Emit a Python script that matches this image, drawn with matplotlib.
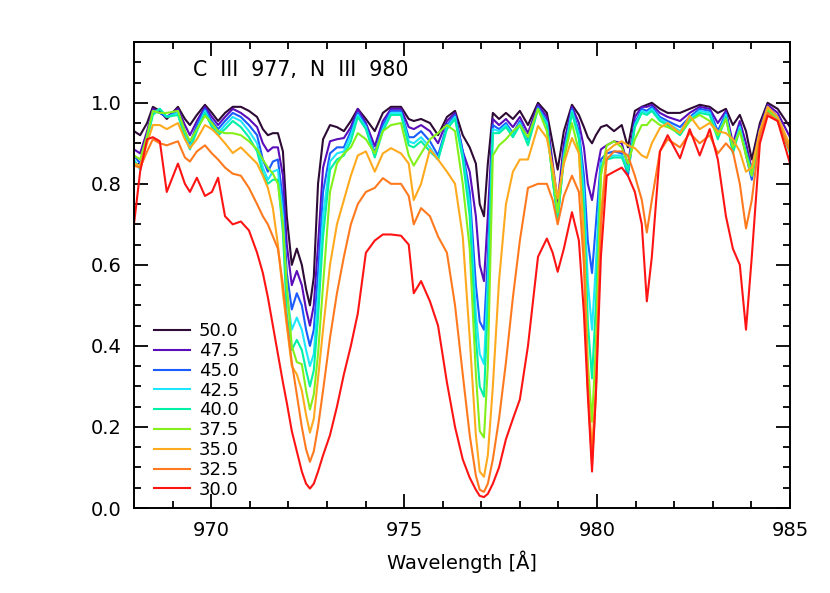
import matplotlib
matplotlib.use('Agg')
import matplotlib.pyplot as plt
from matplotlib.ticker import MultipleLocator

# wavelength grid (Angstrom)
wavelength = [
    968.00, 968.16, 968.34, 968.49, 968.67, 968.85, 969.14, 969.32, 969.45, 969.63,
    969.84, 970.02, 970.18, 970.36, 970.56, 970.77, 970.98, 971.19, 971.34, 971.47,
    971.60, 971.73, 971.86, 971.96, 972.09, 972.22, 972.35, 972.46, 972.56, 972.66,
    972.77, 972.90, 973.08, 973.26, 973.44, 973.62, 973.80, 974.01, 974.24, 974.45,
    974.66, 974.92, 975.12, 975.25, 975.44, 975.67, 975.88, 976.11, 976.32, 976.52,
    976.70, 976.86, 976.96, 977.07, 977.17, 977.30, 977.46, 977.64, 977.82, 978.00,
    978.21, 978.47, 978.70, 978.85, 978.98, 979.14, 979.35, 979.53, 979.66, 979.76,
    979.87, 979.97, 980.10, 980.25, 980.44, 980.64, 980.80, 980.98, 981.16, 981.29,
    981.42, 981.63, 981.83, 982.15, 982.40, 982.66, 982.92, 983.13, 983.34, 983.52,
    983.70, 983.86, 984.01, 984.22, 984.42, 984.68, 985.00,
]

flux_500 = [
    0.93, 0.92, 0.95, 0.99, 0.98, 0.96, 0.99, 0.96, 0.945, 0.97,
    0.995, 0.975, 0.955, 0.975, 0.99, 0.99, 0.98, 0.965, 0.935, 0.92,
    0.925, 0.925, 0.88, 0.72, 0.60, 0.64, 0.60, 0.54, 0.50, 0.57,
    0.80, 0.91, 0.945, 0.94, 0.93, 0.955, 0.985, 0.96, 0.93, 0.975,
    0.99, 0.99, 0.96, 0.955, 0.96, 0.95, 0.92, 0.965, 0.98, 0.92,
    0.89, 0.85, 0.75, 0.72, 0.85, 0.975, 0.96, 0.975, 0.96, 0.98,
    0.945, 1.0, 0.975, 0.90, 0.835, 0.93, 0.995, 0.97, 0.94, 0.915,
    0.90, 0.92, 0.94, 0.945, 0.93, 0.945, 0.89, 0.98, 0.99, 0.995,
    1.0, 0.985, 0.975, 0.975, 0.985, 0.995, 0.99, 0.975, 0.985, 0.945,
    0.97, 0.93, 0.86, 0.95, 1.0, 0.985, 0.94,
]

flux_475 = [
    0.885, 0.875, 0.93, 0.985, 0.975, 0.965, 0.985, 0.945, 0.92, 0.955,
    0.99, 0.965, 0.945, 0.965, 0.985, 0.975, 0.96, 0.94, 0.90, 0.88,
    0.89, 0.89, 0.82, 0.65, 0.55, 0.585, 0.55, 0.49, 0.45, 0.50,
    0.65, 0.84, 0.905, 0.91, 0.913, 0.94, 0.985, 0.95, 0.893, 0.955,
    0.985, 0.985, 0.94, 0.935, 0.945, 0.93, 0.90, 0.955, 0.975, 0.88,
    0.83, 0.72, 0.60, 0.56, 0.72, 0.96, 0.945, 0.96, 0.94, 0.965,
    0.925, 0.995, 0.965, 0.85, 0.755, 0.90, 0.99, 0.95, 0.89, 0.80,
    0.76, 0.82, 0.885, 0.895, 0.905, 0.90, 0.845, 0.965, 0.99, 0.99,
    0.995, 0.975, 0.965, 0.955, 0.975, 0.99, 0.985, 0.95, 0.98, 0.90,
    0.955, 0.90, 0.835, 0.94, 0.995, 0.975, 0.915,
]

flux_450 = [
    0.87, 0.85, 0.92, 0.98, 0.975, 0.965, 0.98, 0.93, 0.90, 0.945,
    0.985, 0.955, 0.935, 0.955, 0.975, 0.965, 0.945, 0.92, 0.86, 0.83,
    0.855, 0.86, 0.76, 0.58, 0.49, 0.53, 0.50, 0.44, 0.40, 0.44,
    0.58, 0.78, 0.875, 0.89, 0.89, 0.93, 0.975, 0.945, 0.876, 0.945,
    0.98, 0.98, 0.915, 0.915, 0.93, 0.905, 0.87, 0.945, 0.97, 0.88,
    0.78, 0.55, 0.46, 0.44, 0.62, 0.945, 0.935, 0.95, 0.925, 0.955,
    0.91, 0.99, 0.955, 0.82, 0.71, 0.88, 0.985, 0.93, 0.82, 0.66,
    0.58, 0.70, 0.86, 0.875, 0.88, 0.875, 0.82, 0.95, 0.985, 0.98,
    0.99, 0.965, 0.955, 0.94, 0.965, 0.985, 0.98, 0.93, 0.975, 0.88,
    0.945, 0.87, 0.81, 0.93, 0.99, 0.965, 0.89,
]

flux_425 = [
    0.86, 0.835, 0.91, 0.975, 0.985, 0.965, 0.975, 0.92, 0.89, 0.935,
    0.98, 0.945, 0.925, 0.945, 0.965, 0.955, 0.93, 0.90, 0.84, 0.81,
    0.83, 0.835, 0.72, 0.53, 0.44, 0.47, 0.44, 0.39, 0.35, 0.38,
    0.52, 0.72, 0.855, 0.875, 0.88, 0.92, 0.97, 0.94, 0.87, 0.935,
    0.975, 0.975, 0.905, 0.90, 0.915, 0.89, 0.86, 0.94, 0.965, 0.87,
    0.75, 0.48, 0.38, 0.355, 0.56, 0.935, 0.93, 0.945, 0.92, 0.95,
    0.90, 0.985, 0.95, 0.81, 0.71, 0.87, 0.98, 0.92, 0.78, 0.56,
    0.44, 0.60, 0.85, 0.865, 0.87, 0.87, 0.835, 0.945, 0.98, 0.975,
    0.985, 0.96, 0.95, 0.93, 0.96, 0.98, 0.975, 0.92, 0.97, 0.885,
    0.94, 0.875, 0.82, 0.925, 0.985, 0.96, 0.88,
]

flux_400 = [
    0.855, 0.84, 0.91, 0.97, 0.985, 0.965, 0.97, 0.915, 0.885, 0.93,
    0.975, 0.94, 0.92, 0.935, 0.955, 0.94, 0.915, 0.88, 0.825, 0.80,
    0.81, 0.81, 0.68, 0.48, 0.39, 0.415, 0.39, 0.34, 0.30, 0.34,
    0.47, 0.67, 0.835, 0.86, 0.87, 0.905, 0.965, 0.935, 0.865, 0.93,
    0.97, 0.97, 0.895, 0.89, 0.905, 0.88, 0.86, 0.935, 0.96, 0.86,
    0.72, 0.42, 0.30, 0.275, 0.50, 0.925, 0.925, 0.94, 0.915, 0.945,
    0.895, 0.985, 0.945, 0.81, 0.715, 0.86, 0.975, 0.91, 0.74, 0.46,
    0.32, 0.50, 0.84, 0.86, 0.865, 0.865, 0.83, 0.94, 0.975, 0.97,
    0.98, 0.955, 0.945, 0.92, 0.955, 0.975, 0.97, 0.91, 0.965, 0.875,
    0.935, 0.88, 0.83, 0.92, 0.98, 0.955, 0.875,
]

flux_375 = [
    0.87, 0.86, 0.92, 0.98, 0.975, 0.975, 0.98, 0.93, 0.905, 0.935,
    0.968, 0.95, 0.93, 0.925, 0.925, 0.92, 0.905, 0.885, 0.86, 0.84,
    0.825, 0.80, 0.70, 0.55, 0.40, 0.36, 0.355, 0.29, 0.243, 0.28,
    0.38, 0.55, 0.78, 0.85, 0.875, 0.89, 0.925, 0.91, 0.875, 0.93,
    0.945, 0.95, 0.87, 0.845, 0.875, 0.91, 0.925, 0.945, 0.93, 0.80,
    0.64, 0.33, 0.19, 0.174, 0.35, 0.87, 0.895, 0.91, 0.93, 0.945,
    0.915, 0.985, 0.93, 0.82, 0.73, 0.86, 0.95, 0.88, 0.68, 0.36,
    0.213, 0.40, 0.82, 0.895, 0.905, 0.89, 0.85, 0.91, 0.945, 0.945,
    0.96, 0.945, 0.94, 0.925, 0.955, 0.97, 0.955, 0.92, 0.96, 0.89,
    0.93, 0.87, 0.82, 0.93, 0.985, 0.955, 0.88,
]

flux_350 = [
    0.85, 0.845, 0.90, 0.945, 0.945, 0.935, 0.95, 0.91, 0.888, 0.91,
    0.945, 0.935, 0.92, 0.90, 0.876, 0.89, 0.87, 0.85, 0.82, 0.79,
    0.74, 0.65, 0.53, 0.45, 0.35, 0.33, 0.29, 0.23, 0.186, 0.22,
    0.32, 0.44, 0.60, 0.70, 0.76, 0.82, 0.87, 0.88, 0.83, 0.875,
    0.888, 0.875, 0.85, 0.76, 0.80, 0.885, 0.86, 0.83, 0.80, 0.67,
    0.42, 0.18, 0.09, 0.077, 0.13, 0.30, 0.56, 0.75, 0.83, 0.86,
    0.86, 0.943, 0.913, 0.84, 0.764, 0.85, 0.913, 0.875, 0.66, 0.30,
    0.144, 0.30, 0.72, 0.88, 0.895, 0.905, 0.895, 0.888, 0.87, 0.864,
    0.90, 0.938, 0.95, 0.925, 0.968, 0.935, 0.95, 0.93, 0.925, 0.91,
    0.88, 0.83, 0.84, 0.93, 0.99, 0.965, 0.895,
]

flux_325 = [
    0.845, 0.84, 0.88, 0.91, 0.90, 0.895, 0.905, 0.865, 0.855, 0.88,
    0.895, 0.875, 0.86, 0.84, 0.825, 0.82, 0.79, 0.75, 0.72, 0.70,
    0.67, 0.64, 0.55, 0.46, 0.36, 0.28, 0.20, 0.145, 0.114, 0.14,
    0.20, 0.29, 0.42, 0.53, 0.62, 0.70, 0.75, 0.78, 0.79, 0.814,
    0.80, 0.80, 0.77, 0.70, 0.74, 0.72, 0.67, 0.63, 0.50, 0.33,
    0.18, 0.08, 0.045, 0.04, 0.06, 0.12, 0.22, 0.36, 0.52, 0.66,
    0.79, 0.80, 0.80, 0.76, 0.70, 0.77, 0.82, 0.78, 0.60, 0.30,
    0.11, 0.28, 0.70, 0.86, 0.88, 0.88, 0.87, 0.82, 0.76, 0.68,
    0.76, 0.88, 0.91, 0.89, 0.925, 0.90, 0.92, 0.875, 0.90, 0.88,
    0.80, 0.69, 0.76, 0.92, 0.975, 0.955, 0.88,
]

flux_300 = [
    0.70, 0.83, 0.91, 0.915, 0.905, 0.78, 0.85, 0.80, 0.78, 0.815,
    0.77, 0.78, 0.815, 0.72, 0.70, 0.707, 0.685, 0.63, 0.58, 0.52,
    0.45, 0.38, 0.31, 0.26, 0.19, 0.14, 0.09, 0.06, 0.048, 0.06,
    0.09, 0.13, 0.18, 0.25, 0.33, 0.40, 0.48, 0.63, 0.66, 0.675,
    0.675, 0.672, 0.65, 0.53, 0.56, 0.51, 0.45, 0.31, 0.20, 0.12,
    0.075, 0.045, 0.03, 0.027, 0.035, 0.06, 0.10, 0.17, 0.22, 0.268,
    0.40, 0.62, 0.665, 0.63, 0.583, 0.64, 0.73, 0.66, 0.48, 0.28,
    0.09, 0.28, 0.62, 0.82, 0.83, 0.84, 0.82, 0.78, 0.70, 0.51,
    0.62, 0.88, 0.92, 0.863, 0.935, 0.87, 0.935, 0.86, 0.72, 0.64,
    0.60, 0.44, 0.62, 0.90, 0.968, 0.955, 0.85,
]

labels = ['50.0', '47.5', '45.0', '42.5', '40.0', '37.5', '35.0', '32.5', '30.0']
spectra = [flux_500, flux_475, flux_450, flux_425, flux_400,
           flux_375, flux_350, flux_325, flux_300]
colors = ['#2d0b35', '#5a0db8', '#1a5cff', '#1ee6ff', '#00f0a8',
          '#84f01a', '#ffaa1e', '#ff7a1e', '#ff1414']


def main():
    fig = plt.figure(figsize=(8.3, 5.93), dpi=100)
    ax = fig.add_axes([0.1614, 0.1433, 0.7904, 0.7859])

    for flux, label, color in zip(spectra, labels, colors):
        ax.plot(wavelength, flux, color=color, lw=1.5, label=label)

    ax.set_xlim(968, 985)
    ax.set_ylim(0, 1.15)
    ax.xaxis.set_major_locator(MultipleLocator(5))
    ax.xaxis.set_minor_locator(MultipleLocator(1))
    ax.yaxis.set_major_locator(MultipleLocator(0.2))
    ax.yaxis.set_minor_locator(MultipleLocator(0.05))
    ax.yaxis.set_major_formatter(plt.FormatStrFormatter('%.1f'))

    ax.tick_params(which='both', direction='in', top=True, right=True,
                   width=1.3, labelsize=14)
    ax.tick_params(which='major', length=10)
    ax.tick_params(which='minor', length=5)
    ax.tick_params(axis='x', pad=9)
    ax.tick_params(axis='y', pad=9)
    for spine in ax.spines.values():
        spine.set_linewidth(1.4)

    ax.set_xlabel('Wavelength [Å]', fontsize=14, labelpad=8)
    ax.text(969.53, 1.08, 'C  III  977,  N  III  980', fontsize=14.8,
            ha='left', va='center')

    ax.legend(loc='lower left', bbox_to_anchor=(0.03, 0.02), frameon=False,
              fontsize=13, handlelength=2.0, handletextpad=0.5,
              labelspacing=0.1, borderpad=0, borderaxespad=0)

    fig.savefig('out.png', dpi=100)


if __name__ == '__main__':
    main()
